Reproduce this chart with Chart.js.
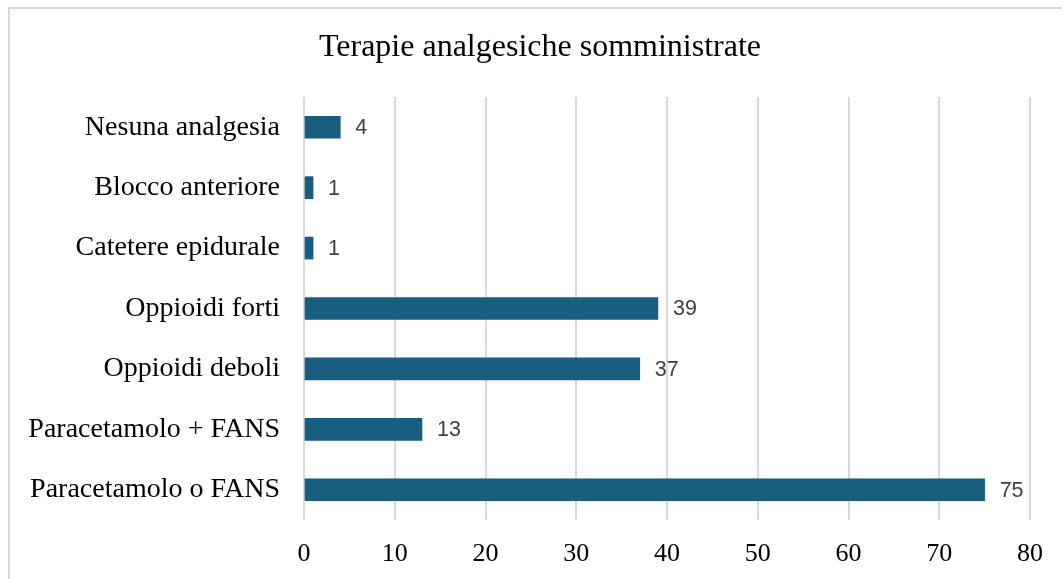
<!DOCTYPE html>
<html>
<head>
<meta charset="utf-8">
<script src="https://cdn.jsdelivr.net/npm/chart.js@4/dist/chart.umd.min.js"></script>
<style>
  body { margin: 0; background: #fff; }
  #wrap { position: relative; width: 1062px; height: 579px; overflow: hidden; }
  #frame { position: absolute; left: 8px; top: 7px; width: 1100px; height: 620px; border: 2px solid #d9d9d9; }
  canvas { position: absolute; left: 0; top: 0; }
</style>
</head>
<body>
<div id="wrap">
  <div id="frame"></div>
  <canvas id="chart" width="1062" height="579"></canvas>
</div>
<script>
const categories = [
  "Nesuna analgesia",
  "Blocco anteriore",
  "Catetere epidurale",
  "Oppioidi forti",
  "Oppioidi deboli",
  "Paracetamolo + FANS",
  "Paracetamolo o FANS"
];
const values = [4, 1, 1, 39, 37, 13, 75];
const xTicks = [0, 10, 20, 30, 40, 50, 60, 70, 80];
const chartTitle = "Terapie analgesiche somministrate";

const serif = "'Liberation Serif', 'Times New Roman', serif";

// title is drawn by hand so it can sit centred on the frame, not the canvas
const titlePlugin = {
  id: "frameTitle",
  afterDraw(chart) {
    const ctx = chart.ctx;
    ctx.save();
    ctx.font = "32px " + serif;
    ctx.fillStyle = "#000";
    ctx.textAlign = "center";
    ctx.textBaseline = "middle";
    ctx.fillText(chartTitle, 540, 48);
    ctx.restore();
  }
};

// draws the value next to the end of each bar
const valueLabels = {
  id: "valueLabels",
  afterDatasetsDraw(chart) {
    const ctx = chart.ctx;
    const meta = chart.getDatasetMeta(0);
    ctx.save();
    ctx.font = "21.5px 'Liberation Sans', Arial, sans-serif";
    ctx.fillStyle = "#404040";
    ctx.textAlign = "left";
    ctx.textBaseline = "middle";
    meta.data.forEach((bar, i) => {
      ctx.fillText(String(values[i]), bar.x + 15, bar.y + 1);
    });
    ctx.restore();
  }
};

new Chart(document.getElementById("chart"), {
  type: "bar",
  data: {
    labels: categories,
    datasets: [{
      data: values,
      backgroundColor: "#175e81",
      barThickness: 22
    }]
  },
  options: {
    indexAxis: "y",
    responsive: false,
    animation: false,
    layout: { padding: { left: 0, right: 32, top: 97, bottom: 0 } },
    plugins: {
      legend: { display: false },
      tooltip: { enabled: false },
      title: { display: false }
    },
    scales: {
      x: {
        min: 0,
        max: 80,
        afterBuildTicks(scale) {
          scale.ticks = xTicks.map(v => ({ value: v }));
        },
        afterFit(scale) { scale.height = 59; },
        border: { display: false },
        grid: { color: "#d9d9d9", lineWidth: 2, drawTicks: false },
        ticks: {
          color: "#000",
          padding: 19,
          font: { family: serif, size: 26 }
        }
      },
      y: {
        afterFit(scale) { scale.width = 304; },
        border: { display: false },
        grid: { display: false, drawTicks: false },
        ticks: {
          color: "#000",
          padding: 24,
          font: { family: serif, size: 28 }
        }
      }
    }
  },
  plugins: [valueLabels, titlePlugin]
});
</script>
</body>
</html>
